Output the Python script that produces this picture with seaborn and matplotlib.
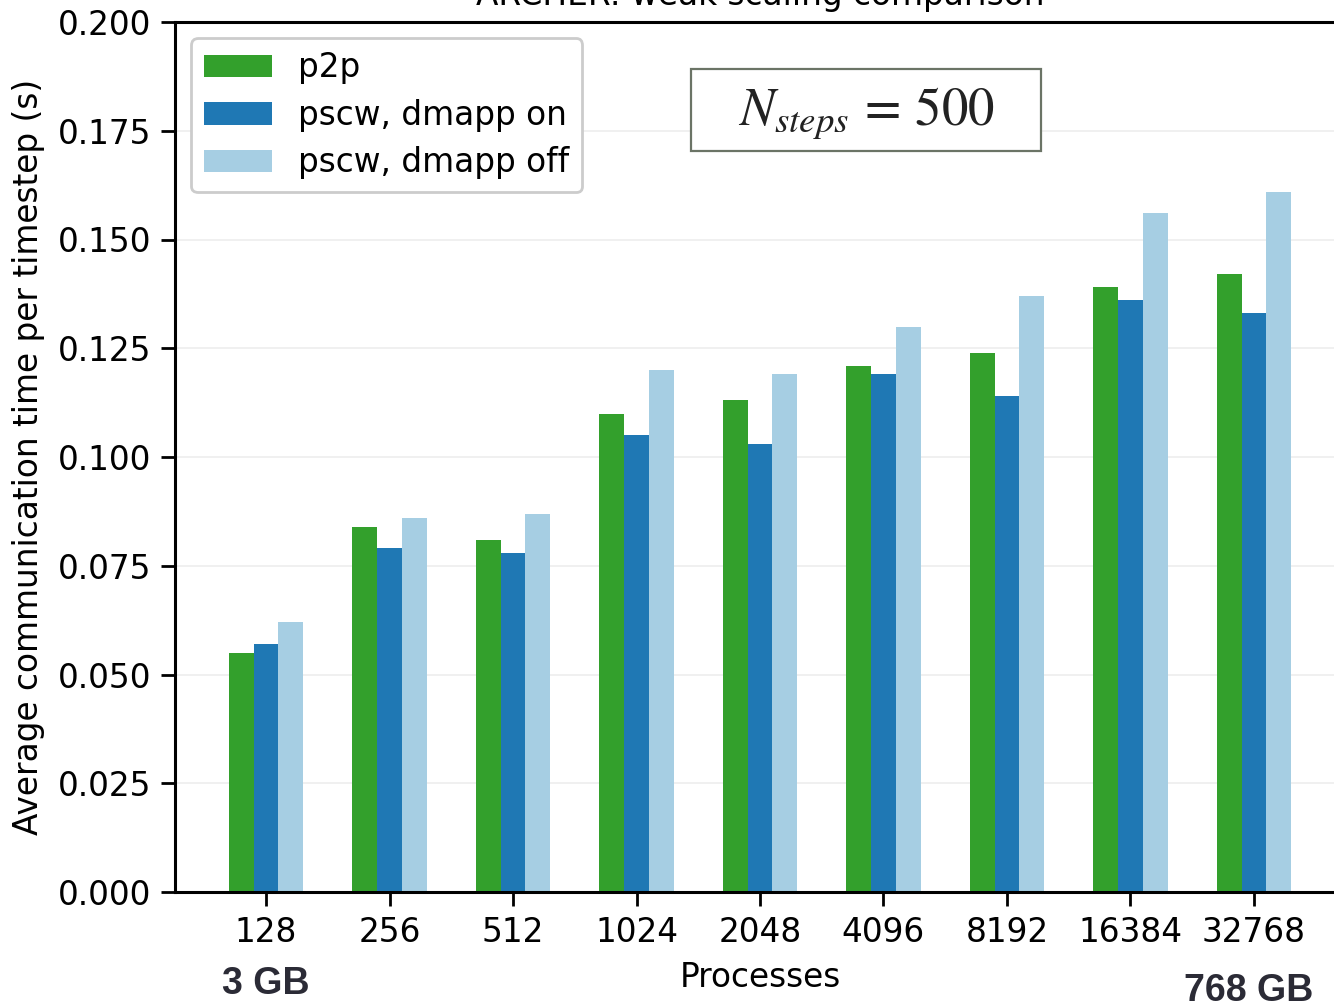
import matplotlib
matplotlib.use("Agg")
import matplotlib.pyplot as plt
from matplotlib.patches import Rectangle
import seaborn as sns
import pandas as pd

processes = ["128", "256", "512", "1024", "2048", "4096", "8192", "16384", "32768"]
series_names = ["p2p", "pscw, dmapp on", "pscw, dmapp off"]
p2p = [0.055, 0.084, 0.081, 0.110, 0.113, 0.121, 0.124, 0.139, 0.142]
pscw_on = [0.057, 0.079, 0.078, 0.105, 0.103, 0.119, 0.114, 0.136, 0.133]
pscw_off = [0.062, 0.086, 0.087, 0.120, 0.119, 0.130, 0.137, 0.156, 0.161]
colors = ["#33a02c", "#1f78b4", "#a6cee3"]

rows = []
for name, vals in zip(series_names, [p2p, pscw_on, pscw_off]):
    for p, v in zip(processes, vals):
        rows.append({"Processes": p, "time": v, "series": name})
df = pd.DataFrame(rows)

sns.set_style("white")
plt.rcParams["font.family"] = ["DejaVu Sans"]
plt.rcParams["text.color"] = "black"
plt.rcParams["axes.labelcolor"] = "black"
plt.rcParams["xtick.color"] = "black"
plt.rcParams["ytick.color"] = "black"

FS = 23.6

fig = plt.figure(figsize=(13.34, 10.07), dpi=100)
ax = fig.add_axes([175 / 1334, 1 - 892 / 1007, 1170 / 1334, 870 / 1007])

sns.barplot(data=df, x="Processes", y="time", hue="series", order=processes,
            hue_order=series_names, palette=colors, width=0.6, saturation=1,
            ax=ax, errorbar=None, linewidth=0, edgecolor="none")

ax.set_xlim(-0.737, 8.737)
ax.set_ylim(0, 0.2)
ax.set_yticks([0, 0.025, 0.05, 0.075, 0.1, 0.125, 0.15, 0.175, 0.2])
ax.set_yticklabels([f"{v:.3f}" for v in ax.get_yticks()])
ax.set_axisbelow(True)
ax.yaxis.grid(True, color="#eeeeee", lw=1.2)

for s in ["left", "bottom", "top", "right"]:
    ax.spines[s].set_linewidth(2.2)
    ax.spines[s].set_color("black")

ax.tick_params(axis="both", which="major", labelsize=FS, length=10, width=2,
               direction="out", color="black", pad=7, bottom=True, left=True,
               labelcolor="black")
ax.set_xlabel("Processes", fontsize=FS, labelpad=9)
ax.set_ylabel("Average communication time per timestep (s)", fontsize=FS, labelpad=9)
ax.set_title("ARCHER: weak scaling comparison", fontsize=FS, pad=12.5, color="black")

leg = ax.legend(loc="upper left", fontsize=FS, frameon=True, fancybox=True,
                edgecolor="#cccccc", framealpha=1, handlelength=2.05,
                handleheight=0.68, borderaxespad=0.5, labelspacing=0.44,
                title=None)
leg.get_frame().set_linewidth(2)
for t in leg.get_texts():
    t.set_color("black")

# annotation box
fig.patches.append(Rectangle((691 / 1334, 1 - 151 / 1007), 350 / 1334, 82 / 1007,
                             transform=fig.transFigure, facecolor="white",
                             edgecolor="#6b7466", linewidth=1.6, zorder=5))
fig.text(866 / 1334, 1 - 113 / 1007, r"$N_{steps}\,=\,500$",
         fontsize=38, math_fontfamily="stix", ha="center", va="center",
         color="#222222", zorder=6)

fig.text(266 / 1334, 1 - 984 / 1007, "3 GB", ha="center", va="center",
         fontsize=27, fontweight="bold", family="Liberation Sans", color="#2b2b36")
fig.text(1249 / 1334, 1 - 991 / 1007, "768 GB", ha="center", va="center",
         fontsize=27, fontweight="bold", family="Liberation Sans", color="#2b2b36")
fig.text(1303 / 1334, 1 - 6 / 1007, "P", ha="left", va="bottom",
         fontsize=27, fontweight="bold", family="Liberation Sans", color="#2b2b36")

fig.savefig("out.png", dpi=100)
